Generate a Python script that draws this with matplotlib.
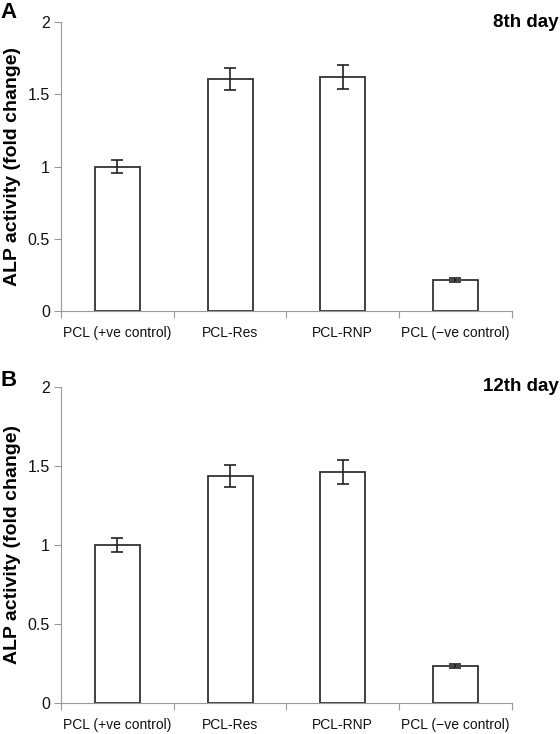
import matplotlib
matplotlib.use("Agg")
import matplotlib.pyplot as plt
import numpy as np

plt.rcParams['font.family'] = ['Liberation Sans', 'DejaVu Sans']

# Datos
grupos = ["PCL (+ve control)", "PCL-Res", "PCL-RNP", "PCL (\u2212ve control)"]
dia8 = [1.0, 1.605, 1.62, 0.215]
err8 = [0.045, 0.075, 0.08, 0.015]
dia12 = [1.0, 1.435, 1.46, 0.235]
err12 = [0.045, 0.07, 0.075, 0.012]

fig = plt.figure(figsize=(5.6, 7.34), dpi=100)

def panel(rect, vals, errs, letra, titulo, y_letra):
    ax = fig.add_axes(rect)
    x = np.arange(len(grupos))
    ax.bar(x, vals, width=0.4, color="white", edgecolor="#333333", linewidth=1.3)
    ax.errorbar(x, vals, yerr=errs, fmt="none", ecolor="#222222", elinewidth=1.2, capsize=4, capthick=1.2)
    ax.set_xlim(-0.5, len(grupos) - 0.5)
    ax.set_ylim(0, 2)
    ax.set_yticks([0, 0.5, 1, 1.5, 2])
    ax.set_yticklabels(["0", "0.5", "1", "1.5", "2"])
    # marcas entre categorias
    ax.set_xticks(np.arange(-0.5, len(grupos)), minor=False)
    ax.set_xticklabels([])
    ax.set_xticks(x, minor=True)
    ax.set_xticklabels(grupos, minor=True)
    ax.tick_params(axis="x", which="minor", length=0, pad=11, labelsize=10, labelcolor="#111111")
    ax.tick_params(axis="x", which="major", length=5, color="#999999", direction="out")
    ax.tick_params(axis="y", length=5, color="#999999", labelsize=11.5, pad=3, labelcolor="#111111")
    for s in ["top", "right"]:
        ax.spines[s].set_visible(False)
    ax.spines["left"].set_color("#999999")
    ax.spines["bottom"].set_color("#999999")
    ax.set_ylabel("ALP activity (fold change)", fontsize=14, fontweight="bold", labelpad=5)
    fig.text(0.0, y_letra, letra, fontsize=16, fontweight="bold", va="center", ha="left")
    fig.text(0.997, rect[1] + rect[3], titulo, fontsize=13.5, fontweight="bold", ha="right", va="center")
    return ax

panel([0.109, 0.576, 0.805, 0.394], dia8, err8, "A", "8th day", 1 - 12 / 734)
panel([0.109, 0.042, 0.805, 0.431], dia12, err12, "B", "12th day", 1 - 380 / 734)

plt.savefig("out.png", dpi=100)
